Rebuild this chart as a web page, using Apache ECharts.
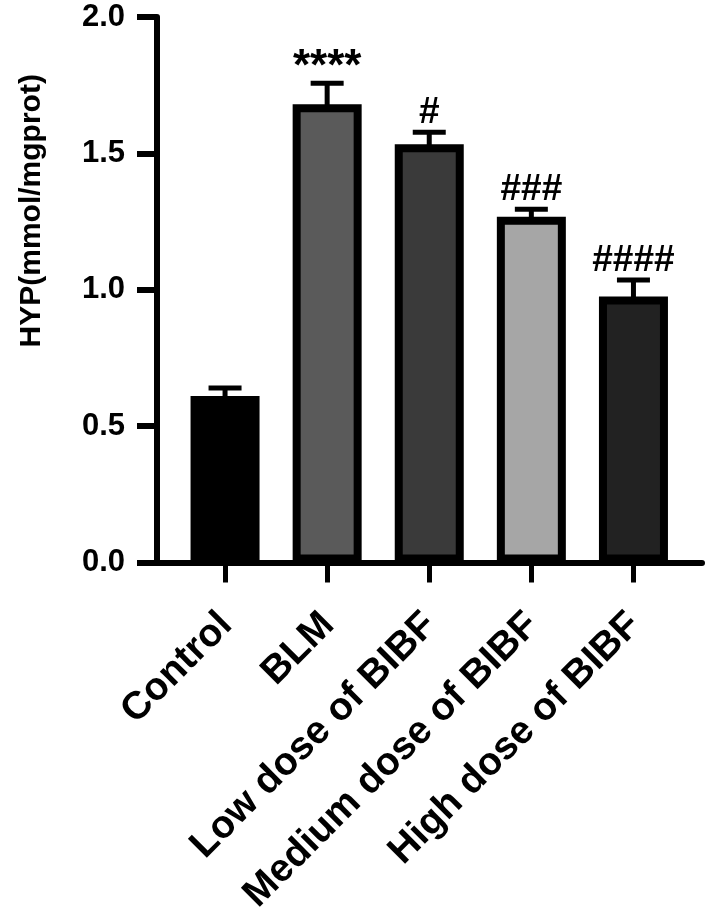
<!DOCTYPE html>
<html><head><meta charset="utf-8">
<script src="https://cdn.jsdelivr.net/npm/echarts@6/dist/echarts.min.js"></script>
<style>html,body{margin:0;padding:0;background:#fff}#c{width:708px;height:924px}</style>
</head><body><div id="c"></div>
<script>
const categories = ['Control', 'BLM', 'Low dose of BIBF', 'Medium dose of BIBF', 'High dose of BIBF'];
const means = [0.61, 1.68, 1.533, 1.268, 0.975];
const errors = [0.03, 0.077, 0.044, 0.027, 0.061];
const marks = ['', '****', '#', '###', '####'];
const barColors = ['#000000', '#5a5a5a', '#3a3a3a', '#a6a6a6', '#222222'];
const yTickValues = [0, 0.5, 1.0, 1.5, 2.0];
const yTitle = 'HYP(mmol/mgprot)';

const FONT = '"Liberation Sans", Arial, Helvetica, sans-serif';
const chart = echarts.init(document.getElementById('c'), null, {renderer: 'canvas'});

chart.setOption({
  animation: false,
  backgroundColor: '#ffffff',
  textStyle: {fontFamily: FONT},
  grid: [
    {left: 174, right: 23.5, top: 17, bottom: 361.5},
    {left: 154, right: 6, top: 17, bottom: 361.5}
  ],
  xAxis: [
    {
      type: 'category', gridIndex: 0, data: categories,
      axisLine: {show: false},
      axisTick: {show: true, alignWithLabel: true, length: 20, lineStyle: {color: '#000', width: 5}},
      axisLabel: {
        interval: 0, rotate: 45, fontSize: 39, fontWeight: 'bold', color: '#000', fontFamily: FONT,
        margin: 30, verticalAlign: 'top', padding: [0, 18, 0, 0]
      },
      splitLine: {show: false}
    },
    {
      type: 'value', gridIndex: 1, min: 0, max: 1,
      axisLine: {show: true, lineStyle: {color: '#000', width: 6}},
      axisTick: {show: false}, axisLabel: {show: false}, splitLine: {show: false}
    }
  ],
  yAxis: [
    {
      type: 'value', gridIndex: 0, min: yTickValues[0], max: yTickValues[yTickValues.length - 1], interval: 0.5, offset: 17,
      axisLine: {show: true, lineStyle: {color: '#000', width: 6}},
      axisTick: {show: true, length: 20, lineStyle: {color: '#000', width: 6}},
      axisLabel: {
        fontSize: 31, fontWeight: 'bold', color: '#000', fontFamily: FONT, margin: 32,
        formatter: v => v.toFixed(1)
      },
      splitLine: {show: false},
      name: yTitle, nameLocation: 'middle', nameRotate: 90, nameGap: 110,
      nameTextStyle: {fontSize: 30, fontWeight: 'bold', color: '#000', fontFamily: FONT, padding: [0, 0, 0, 158]}
    },
    {type: 'value', gridIndex: 1, show: false, min: 0, max: 1}
  ],
  series: [
    {
      type: 'bar', xAxisIndex: 0, yAxisIndex: 0, barWidth: 69,
      data: means.map((v, i) => ({value: v, itemStyle: {color: barColors[i], borderColor: '#000', borderWidth: 8}})),
      z: 2
    },
    {
      type: 'custom', xAxisIndex: 0, yAxisIndex: 0, z: 3,
      data: means.map((v, i) => [i, v, errors[i]]),
      renderItem: function (params, api) {
        const i = api.value(0), m = api.value(1), e = api.value(2);
        const top = api.coord([i, m]);
        const cap = api.coord([i, m + e]);
        const halfCap = 16.5;
        const children = [
          {type: 'line', shape: {x1: top[0], y1: top[1] + 2, x2: cap[0], y2: cap[1]}, style: {stroke: '#000', lineWidth: 5}},
          {type: 'line', shape: {x1: cap[0] - halfCap, y1: cap[1], x2: cap[0] + halfCap, y2: cap[1]}, style: {stroke: '#000', lineWidth: 5}}
        ];
        const t = marks[params.dataIndex];
        if (t) {
          const isStar = t.indexOf('*') >= 0;
          children.push({
            type: 'text', x: cap[0], y: isStar ? cap[1] + 7 : cap[1] - 1,
            style: {text: t, fill: '#000', font: 'bold ' + (isStar ? 44 : 37) + 'px ' + FONT, align: 'center', verticalAlign: 'bottom'}
          });
        }
        return {type: 'group', children: children};
      }
    }
  ]
});
</script>
</body></html>
